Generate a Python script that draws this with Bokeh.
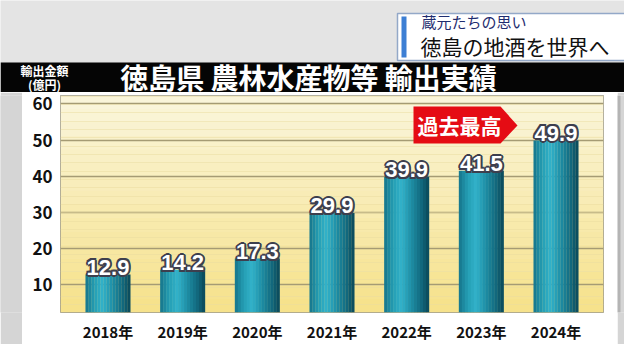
from bokeh.plotting import figure
from bokeh.layouts import column, row
from bokeh.models import (FactorRange, Range1d, FixedTicker, BoxAnnotation, Label,
                          PolyAnnotation, ColumnDataSource, Grid, SingleIntervalTicker)
from bokeh.transform import dodge
from bokeh.core.properties import value
from bokeh.embed import file_html
from bokeh.resources import INLINE

# ---- data ----
years = ["2018年", "2019年", "2020年", "2021年", "2022年", "2023年", "2024年"]
amounts = [12.9, 14.2, 17.3, 29.9, 39.9, 41.5, 49.9]
y_ticks = [10, 20, 30, 40, 50, 60]
title_text = "徳島県 農林水産物等 輸出実績"
unit_line1 = "輸出金額"
unit_line2 = "(億円)"
caption_small = "蔵元たちの思い"
caption_large = "徳島の地酒を世界へ"
badge_text = "過去最高"

JP = "Noto Sans CJK JP"
GREY = "#d5d5d5"
HH = 92          # header height
BH = 344 - HH    # body height

def blank(width, height, xr, yr, bg):
    f = figure(width=width, height=height, x_range=xr, y_range=yr,
               output_backend="svg", toolbar_location=None, min_border=0)
    f.axis.visible = False
    f.grid.visible = False
    f.outline_line_color = None
    f.background_fill_color = bg
    f.border_fill_color = bg
    return f

# ---- header strip (pixel coordinates, y downwards) ----
hdr = blank(624, HH, Range1d(0, 624), Range1d(HH, 0), "#e4e4e4")
hdr.quad(left=[0], right=[624], top=[62], bottom=[HH], fill_color="#050505", line_color=None)
hdr.quad(left=[397], right=[640], top=[13], bottom=[60], fill_color="#ffffff",
         line_color="#93a8c8", line_width=1.5)
hdr.quad(left=[401], right=[406], top=[16], bottom=[57], fill_color="#3d7fd4", line_color=None)

def htext(x, y, text, size, color, bold=False, align="left"):
    hdr.text(x=[x], y=[y], text=[text], text_font=value(JP), text_font_size=f"{size}px",
             text_font_style="bold" if bold else "normal", text_color=color,
             text_align=align, text_baseline="middle")

htext(421, 21, caption_small, 15, "#1f2d70")
htext(420, 45, caption_large, 21, "#111111")
htext(44, 70, unit_line1, 12, "#ffffff", bold=True, align="center")
htext(44, 84, unit_line2, 12, "#ffffff", bold=True, align="center")
htext(308, 76, title_text, 28, "#ffffff", bold=True, align="center")

# ---- side strips ----
left = blank(22, BH, Range1d(0, 22), Range1d(0, BH), GREY)
left.quad(left=[0], right=[22], top=[BH], bottom=[0], fill_color=GREY, line_color=None)
right = blank(7, BH, Range1d(0, 7), Range1d(0, BH), GREY)
right.quad(left=[0], right=[7], top=[BH], bottom=[0], fill_color=GREY, line_color=None)
right.quad(left=[0], right=[3], top=[BH], bottom=[0], fill_color="#b4b4b4", line_color=None)

# ---- chart panel ----
p = figure(width=595, height=BH,
           x_range=FactorRange(factors=years, range_padding=0.136, range_padding_units="absolute"),
           y_range=Range1d(2.4, 62.3),
           output_backend="svg", toolbar_location=None,
           min_border_left=38, min_border_right=14, min_border_top=95 - HH, min_border_bottom=28)
p.border_fill_color = "#ffffff"
p.background_fill_color = "#f8edc0"
p.outline_line_color = "#9c9a8c"
p.outline_line_width = 1

# yellow gradient inside plot frame
top_c = (250, 245, 218)
bot_c = (246, 226, 140)
nb = 16
lo, hi = 2.4, 62.3
for i in range(nb):
    t = i / (nb - 1)
    c = tuple(int(round(top_c[k] + (bot_c[k] - top_c[k]) * t)) for k in range(3))
    b_top = hi - (hi - lo) * i / nb
    b_bot = hi - (hi - lo) * (i + 1) / nb
    p.add_layout(BoxAnnotation(top=b_top, bottom=b_bot, fill_color="#%02x%02x%02x" % c,
                               fill_alpha=1.0, line_color=None, level="image"))

# grids
p.xgrid.grid_line_color = None
p.ygrid.ticker = FixedTicker(ticks=y_ticks)
p.ygrid.grid_line_color = "#a59b74"
p.ygrid.grid_line_width = 1.5
p.add_layout(Grid(dimension=1, ticker=SingleIntervalTicker(interval=2.3),
                  grid_line_color="#e9dba0", grid_line_alpha=0.5, level="underlay"))

# bars (cylinder shading with slices)
src = ColumnDataSource(dict(year=years, amount=amounts,
                            label=[f"{v:.1f}" for v in amounts]))
stops = [(-0.30, (22, 116, 138)), (-0.18, (36, 158, 180)), (-0.07, (50, 178, 202)),
         (0.06, (30, 142, 166)), (0.20, (18, 104, 125)), (0.30, (11, 72, 88))]
def shade(pos):
    for (a, ca), (b, cb) in zip(stops[:-1], stops[1:]):
        if a <= pos <= b:
            t = (pos - a) / (b - a)
            return "#%02x%02x%02x" % tuple(int(round(ca[k] + (cb[k] - ca[k]) * t)) for k in range(3))
    return "#%02x%02x%02x" % stops[-1][1]

n = 15
sw = 0.6 / n
for i in range(n):
    c = -0.3 + sw * (i + 0.5)
    p.vbar(x=dodge("year", c, range=p.x_range), top="amount", bottom=0, width=sw * 1.08,
           source=src, fill_color=shade(c), line_color=None)

# value labels with outline
offs = [(-2, 0), (2, 0), (0, -2), (0, 2), (-1.5, -1.5), (1.5, -1.5), (-1.5, 1.5), (1.5, 1.5)]
for dx, dy in offs:
    p.text(x="year", y="amount", text="label", source=src, x_offset=dx, y_offset=-7 + dy,
           text_font=value("Liberation Sans"), text_font_style="bold", text_font_size="22px",
           text_color="#3d3f4e", text_align="center", text_baseline="alphabetic")
p.text(x="year", y="amount", text="label", source=src, x_offset=0, y_offset=-7,
       text_font=value("Liberation Sans"), text_font_style="bold", text_font_size="22px",
       text_color="#ffffff", text_align="center", text_baseline="alphabetic")

# record badge (canvas pixels of the chart panel)
oy = HH
p.add_layout(PolyAnnotation(xs=[391, 478, 495, 478, 391],
                            ys=[106 - oy, 106 - oy, 125 - oy, 143 - oy, 143 - oy],
                            xs_units="canvas", ys_units="canvas",
                            fill_color="#e50c14", fill_alpha=1.0, line_color=None))
p.add_layout(Label(x=437, y=124 - oy, x_units="canvas", y_units="canvas", text=badge_text,
                   text_font=JP, text_font_size="21px", text_font_style="bold",
                   text_color="#ffffff", text_align="center", text_baseline="middle"))

# axes
for ax in (p.xaxis, p.yaxis):
    ax.axis_line_color = None
    ax.major_tick_line_color = None
    ax.minor_tick_line_color = None
    ax.major_tick_out = 0
    ax.major_label_text_font = JP
    ax.major_label_text_font_style = "bold"
    ax.major_label_text_color = "#111111"
p.yaxis.ticker = FixedTicker(ticks=y_ticks)
p.yaxis.major_label_text_font_size = "17px"
p.yaxis.major_label_standoff = 8
p.xaxis.major_label_text_font_size = "15px"
p.xaxis.major_label_standoff = 8

layout = column(hdr, row(left, p, right, spacing=0), spacing=0)

open("out.html", "w").write(file_html(layout, INLINE))
